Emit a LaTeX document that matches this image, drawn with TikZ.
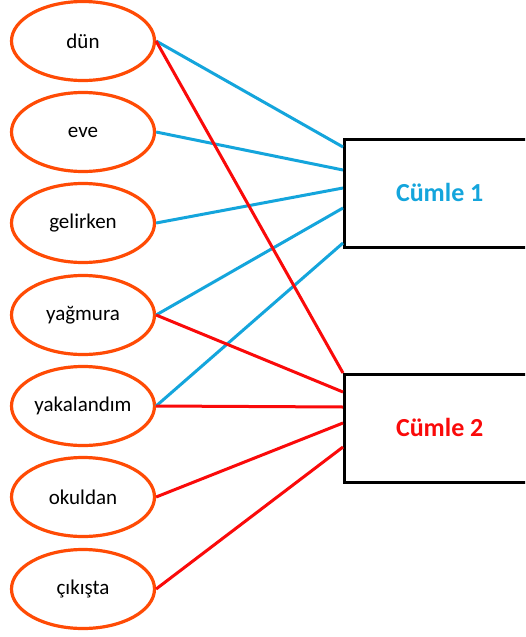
\documentclass[tikz,border=0pt]{standalone}
\usepackage{fontspec}
\setmainfont{Carlito}
\usetikzlibrary{shapes.geometric}
\definecolor{wordring}{RGB}{255,75,5}
\definecolor{firstline}{RGB}{20,165,220}
\definecolor{secondline}{RGB}{250,10,10}
\begin{document}
\begin{tikzpicture}[x=1pt,y=-1pt,
  word/.style={draw=wordring,line width=3.2pt,ellipse,minimum width=143pt,minimum height=79pt,inner sep=0pt,font=\fontsize{21}{24}\selectfont,fill=white},
  sentence/.style={draw=black,line width=3.4pt,anchor=north west,minimum width=190pt,minimum height=108pt,inner sep=0pt,font=\fontsize{26}{30}\selectfont\bfseries},
  link1/.style={firstline,line width=3pt},
  link2/.style={secondline,line width=3pt}]
\clip (0,0) rectangle (525,637);
\fill[white] (0,0) rectangle (525,637);

% sentence boxes (right side runs past the edge)
\node[sentence,text=firstline] (c1) at (343,138) {\raisebox{2pt}{Cümle 1}};
\node[sentence,text=secondline] (c2) at (343,373) {\raisebox{2pt}{Cümle 2}};

% attachment points on the left sides of the boxes
\coordinate (a1) at ([yshift=-9pt]c1.north west);
\coordinate (a2) at ([yshift=-32pt]c1.north west);
\coordinate (a3) at ([yshift=-50pt]c1.north west);
\coordinate (a4) at ([yshift=-70pt]c1.north west);
\coordinate (a5) at ([yshift=-105pt]c1.north west);
\coordinate (b1) at (c2.north west);
\coordinate (b2) at ([yshift=-19pt]c2.north west);
\coordinate (b3) at ([yshift=-34pt]c2.north west);
\coordinate (b4) at ([yshift=-50pt]c2.north west);
\coordinate (b5) at ([yshift=-74pt]c2.north west);

% word ellipses
\node[word] (w1) at (83,41) {dün};
\node[word] (w2) at (83,132) {eve};
\node[word] (w3) at (83,223) {gelirken};
\node[word] (w4) at (83,315) {yağmura};
\node[word] (w5) at (83,406) {yakalandım};
\node[word] (w6) at (83,497) {okuldan};
\node[word] (w7) at (83,589) {çıkışta};

% links to the first sentence
\draw[link1] (w1.east) -- (a1);
\draw[link1] (w2.east) -- (a2);
\draw[link1] (w3.east) -- (a3);
\draw[link1] (w4.east) -- (a4);
\draw[link1] (w5.east) -- (a5);

% links to the second sentence
\draw[link2] (w1.east) -- (b1);
\draw[link2] (w4.east) -- (b2);
\draw[link2] (w5.east) -- (b3);
\draw[link2] (w6.east) -- (b4);
\draw[link2] (w7.east) -- (b5);
\end{tikzpicture}
\end{document}
